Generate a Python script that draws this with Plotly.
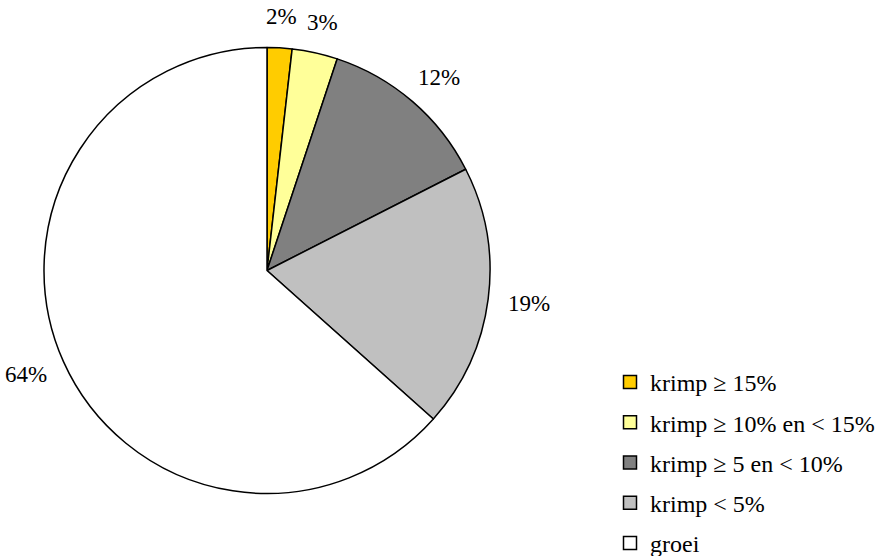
import math
import plotly.graph_objects as go

# ---- data ----
categories = ["krimp ≥ 15%", "krimp ≥ 10% en < 15%", "krimp ≥ 5 en < 10%", "krimp < 5%", "groei"]
values = [1.8, 3.3, 12.4, 19.1, 63.4]
value_labels = ["2%", "3%", "12%", "19%", "64%"]
colors = ["#FFCC00", "#FFFF99", "#808080", "#C0C0C0", "#FFFFFF"]

W, H = 877, 556
FONT = "Liberation Serif"
FS = 23
LFS = 24

# pie geometry (pixels)
cx_px, cy_px, R = 267, 270.5, 223

fig = go.Figure()
fig.add_trace(go.Pie(
    labels=categories, values=values, sort=False, direction="clockwise", rotation=0,
    marker=dict(colors=colors, line=dict(color="black", width=1.5)),
    textinfo="none", showlegend=False,
    domain=dict(x=[(cx_px - R) / W, (cx_px + R) / W],
                y=[(H - cy_px - R) / H, (H - cy_px + R) / H]),
))

# legend proxies
for cat, col in zip(categories, colors):
    fig.add_trace(go.Scatter(
        x=[None], y=[None], mode="markers", name=cat, legendgroup=cat,
        marker=dict(symbol="square", size=13, color=col, line=dict(color="black", width=1.5)),
    ))

# outside labels at mid-angles
annotations = []
total = sum(values)
cum = 0.0
gap = 20
for v, lab in zip(values, value_labels):
    mid = (cum + v / 2) / total * 2 * math.pi
    cum += v
    s, c = math.sin(mid), math.cos(mid)
    ndig = len(lab) - 1
    w = FS * (0.5 * ndig + 0.833)
    h = 22
    dx = (R + gap) * s + w / 2 * s
    dy = (R + gap) * c + h / 2 * c
    annotations.append(dict(
        x=cx_px / W, y=1 - cy_px / H, xref="paper", yref="paper",
        text=lab, showarrow=False, xshift=dx, yshift=dy,
        xanchor="center", yanchor="middle",
        font=dict(family=FONT, size=FS, color="black"),
    ))

fig.update_layout(
    width=W, height=H, margin=dict(l=0, r=0, t=0, b=0, autoexpand=False),
    font=dict(family=FONT, size=FS, color="black"),
    paper_bgcolor="white", plot_bgcolor="white",
    xaxis=dict(visible=False), yaxis=dict(visible=False),
    annotations=annotations,
    legend=dict(x=610 / W, y=1 - 360 / H, xanchor="left", yanchor="top",
                font=dict(family=FONT, size=LFS, color="black"),
                tracegroupgap=6, itemwidth=30, bgcolor="rgba(0,0,0,0)"),
)

fig.write_html("out.html")
